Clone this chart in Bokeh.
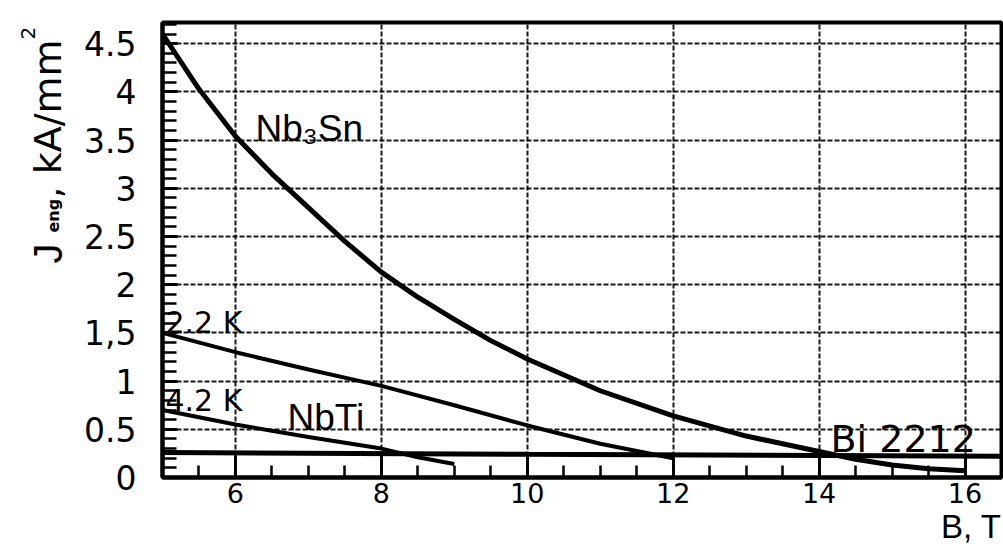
import math
from bokeh.plotting import figure
from bokeh.layouts import row
from bokeh.models import Range1d, SingleIntervalTicker, Label, Title
from bokeh.core.properties import value
from bokeh.embed import file_html
from bokeh.resources import INLINE

# ---------------- data ----------------
nb3sn_B = [5, 5.5, 6, 6.5, 7, 7.5, 8, 8.5, 9, 9.5, 10, 11, 12, 13, 14, 14.5, 15, 15.5, 16]
nb3sn_J = [4.6, 4.03, 3.54, 3.15, 2.8, 2.45, 2.13, 1.87, 1.64, 1.42, 1.23, 0.9, 0.64, 0.43, 0.27, 0.19, 0.13, 0.09, 0.07]

nbti22_B = [5, 6, 7, 8, 9, 10, 11, 12]
nbti22_J = [1.5, 1.3, 1.12, 0.95, 0.75, 0.54, 0.35, 0.2]

nbti42_B = [5, 6, 7, 8, 8.5, 9]
nbti42_J = [0.7, 0.55, 0.42, 0.3, 0.21, 0.14]

bi_B = [5, 10, 16.5]
bi_J = [0.26, 0.24, 0.22]

x_ticks = [6, 8, 10, 12, 14, 16]
x_tick_labels = ["6", "8", "10", "12", "14", "16"]
y_ticks = [0, 0.5, 1, 1.5, 2, 2.5, 3, 3.5, 4, 4.5]
y_tick_labels = ["0", "0.5", "1", "1,5", "2", "2.5", "3", "3.5", "4", "4.5"]

x_title = "B, T"
y_title_parts = ["J", "eng", ", kA/mm", "2"]

X0, X1 = 5, 16.5
Y0, Y1 = 0, 4.72

# ---------------- layout (page pixels) ----------------
W, H = 1003, 552
LW = 70            # width of the strip holding the y title
FL, FR, FT, FB = 162, 1001, 22, 477
PW = W - LW


def dx(px):
    return X0 + (px - FL) * (X1 - X0) / (FR - FL)


def dy(py):
    return Y0 + (FB - py) * (Y1 - Y0) / (FB - FT)


p = figure(width=PW, height=H, x_range=Range1d(X0, X1), y_range=Range1d(Y0, Y1),
           output_backend="svg", toolbar_location=None, title=None,
           min_border_left=FL - LW, min_border_right=W - FR,
           min_border_top=FT, min_border_bottom=H - FB)
p.background_fill_color = "white"
p.border_fill_color = "white"
p.outline_line_color = "black"
p.outline_line_width = 4

p.xaxis.ticker = SingleIntervalTicker(interval=2, num_minor_ticks=4)
p.yaxis.ticker = SingleIntervalTicker(interval=0.5, num_minor_ticks=5)
p.xaxis.major_label_overrides = dict(zip(x_ticks, x_tick_labels))
p.yaxis.major_label_overrides = dict(zip(y_ticks, y_tick_labels))

for ax in (p.xaxis[0], p.yaxis[0]):
    ax.axis_line_color = "black"
    ax.axis_line_width = 4
    ax.major_tick_out = 0
    ax.minor_tick_out = 0
    ax.major_tick_line_color = "black"
    ax.minor_tick_line_color = "black"
    ax.major_tick_line_width = 3
    ax.minor_tick_line_width = 2.5
    ax.major_label_text_font = "DejaVu Sans"
    ax.major_label_text_color = "black"
    ax.major_label_text_font_style = "normal"

p.xaxis.major_tick_in = 22
p.xaxis.minor_tick_in = 12
p.xaxis.major_label_text_font_size = "27px"
p.xaxis.major_label_standoff = 5
p.yaxis.major_tick_in = 15
p.yaxis.minor_tick_in = 14
p.yaxis.major_label_text_font_size = "33px"
p.yaxis.major_label_standoff = 26

for g in (p.xgrid[0], p.ygrid[0]):
    g.grid_line_color = "black"
    g.grid_line_width = 2
    g.grid_line_dash = "5 2"
    g.grid_line_alpha = 0.9

# x title, right-aligned under the axis
p.add_layout(Title(text=x_title, align="right", text_font="Liberation Sans",
                   text_font_size="33px", text_font_style="normal", text_color="black",
                   standoff=0, offset=0), "below")

# curves
p.line(bi_B, bi_J, line_color="black", line_width=5)
p.line(nb3sn_B, nb3sn_J, line_color="black", line_width=5, line_join="round")
p.line(nbti22_B, nbti22_J, line_color="black", line_width=4, line_join="round")
p.line(nbti42_B, nbti42_J, line_color="black", line_width=4, line_join="round")


def lab(text, px, py, size, font="DejaVu Sans"):
    p.add_layout(Label(x=dx(px), y=dy(py), text=text, text_font=font,
                       text_font_size=f"{size}px", text_align="left",
                       text_baseline="alphabetic", text_color="black"))


lab("Nb\u2083Sn", 255, 128, 37, font="Liberation Sans")
lab("2.2 K", 165, 322, 30)
lab("4.2 K", 165, 400, 30)
lab("NbTi", 287, 417, 37, font="Liberation Sans")
lab("Bi 2212", 830, 438, 38)

# y title strip (page x 0..LW); its frame is given the same top/bottom as the plot
# frame, and its y range is expressed as (H - page y) over that frame
ys = figure(width=LW, height=H, x_range=Range1d(0, LW), y_range=Range1d(H - FB, H - FT),
            output_backend="svg", toolbar_location=None, title=None,
            x_axis_type=None, y_axis_type=None,
            min_border_left=0, min_border_right=0, min_border_top=FT,
            min_border_bottom=H - FB)
ys.outline_line_color = None
ys.background_fill_color = "white"
ys.border_fill_color = "white"
ys.grid.visible = False

rot = math.pi / 2
# (part, font, baseline x px, start y px, size, style)
for part, font, bx, sy, size, style in [
    (y_title_parts[0], "Liberation Sans", 47, 263, 40, "normal"),
    (y_title_parts[1], "DejaVu Sans", 53, 232, 16, "bold"),
    (y_title_parts[2], "DejaVu Sans", 47, 198, 38, "normal"),
    (y_title_parts[3], "DejaVu Sans", 27, 39, 20, "normal"),
]:
    ys.text(x=[bx], y=[H - sy], text=[part], angle=rot, text_font=value(font),
            text_font_size=f"{size}px", text_font_style=style, text_align="left",
            text_baseline="alphabetic", text_color="black")

layout = row(ys, p, spacing=0)

open("out.html", "w").write(file_html(layout, INLINE))
